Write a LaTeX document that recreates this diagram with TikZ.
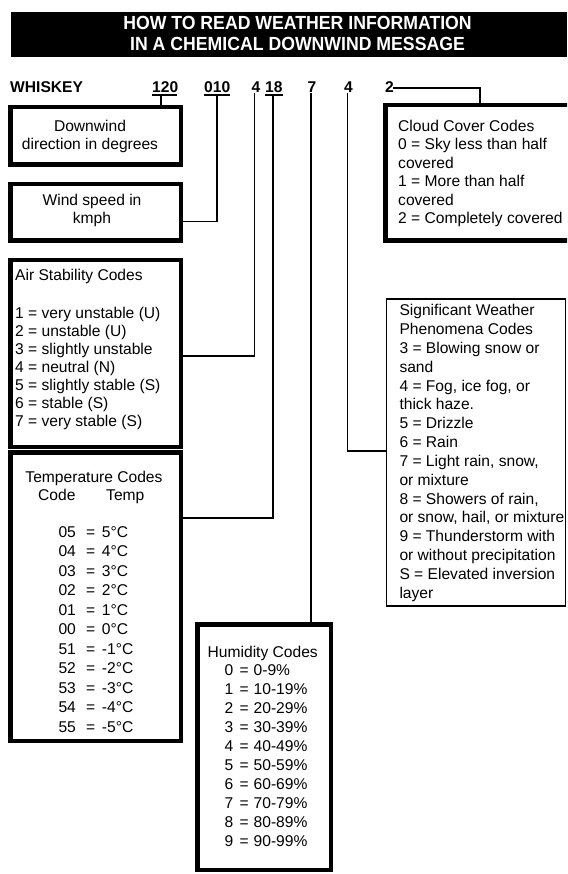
\documentclass[tikz,border=0pt]{standalone}
\usepackage{fontspec}
\setmainfont{Liberation Sans}
\newfontfamily\titlefont{Liberation Sans}[FakeStretch=0.93]
\begin{document}
\begin{tikzpicture}[x=1pt,y=-1pt,
  thickbox/.style={draw, line width=4.5pt, inner sep=0pt, rectangle},
  thinbox/.style={draw, line width=1.5pt, inner sep=0pt, rectangle},
  conn/.style={line width=1.6pt},
  txt/.style={inner sep=0pt, anchor=base west, font=\fontsize{15.6}{18}\selectfont},
  ctxt/.style={txt, anchor=base},
  num/.style={inner sep=0pt, anchor=base west, font=\fontsize{15.6}{18}\selectfont\bfseries},
  ttl/.style={inner sep=0pt, anchor=base, text=white, font=\titlefont\fontsize{19}{21}\selectfont\bfseries}]
\useasboundingbox (0,0) rectangle (567,874);
\clip (0,0) rectangle (567,874);

% title bar
\node[fill=black, inner sep=0pt, minimum width=556pt, minimum height=45pt, anchor=north west] (bar) at (11,11.7) {};
\node[ttl] (t1) at (297.5,29.3) {HOW TO READ WEATHER INFORMATION};
\node[ttl] (t2) at (297.5,51) {IN A CHEMICAL DOWNWIND MESSAGE};

% message row
\node[num] (whiskey) at (10,92.3) {WHISKEY};
\node[num] (n120) at (152,92.3) {120};
\node[num] (n010) at (204,92.3) {010};
\node[num] (n4a) at (251.5,92.3) {4};
\node[num] (n18) at (265,92.3) {18};
\node[num] (n7) at (307.5,92.3) {7};
\node[num] (n4b) at (344,92.3) {4};
\node[num] (n2) at (385,92.3) {2};

% boxes
\node[thickbox, minimum width=170.5pt, minimum height=57.5pt] (down) at (95.5,136) {};
\node[thickbox, minimum width=170.5pt, minimum height=56.5pt] (wind) at (95.5,212.5) {};
\node[thickbox, minimum width=170.5pt, minimum height=186.5pt] (air) at (95.5,353.5) {};
\node[thickbox, minimum width=170.5pt, minimum height=288.5pt] (temp) at (95.5,596.5) {};
\node[thickbox, minimum width=133.5pt, minimum height=245.5pt] (hum) at (264,747) {};
\node[thickbox, minimum width=190pt, minimum height=135.5pt] (cloud) at (480.25,173) {};
\node[thinbox, minimum width=179.2pt, minimum height=307.1pt] (sig) at (476.1,452.35) {};

% connector points
\coordinate (u120a) at (152,95); \coordinate (u120b) at (177,95); \coordinate (u120) at (161,95);
\coordinate (u010a) at (204,95); \coordinate (u010b) at (230,95); \coordinate (u010) at (216.7,95);
\coordinate (u18a) at (265,95); \coordinate (u18b) at (283,95); \coordinate (u18) at (273,95);
\coordinate (s4a) at (254.5,93.5);
\coordinate (s7) at (311,93.5);
\coordinate (s4b) at (347.5,93.5);
\coordinate (s2) at (393,88.3);
\coordinate (a010) at (180.75,221.7);
\coordinate (aair) at (180.75,356);
\coordinate (atemp) at (180.75,518);
\coordinate (asig) at (386.5,451);
\coordinate (acloud) at (480,105.25);

\draw[conn] (u120a) -- (u120b);
\draw[conn] (u010a) -- (u010b);
\draw[conn] (u18a) -- (u18b);
\draw[conn] (u120) -- (u120 |- down.north);
\draw[conn] (u010) |- (a010);
\draw[conn] (s4a) |- (aair);
\draw[conn] (u18) |- (atemp);
\draw[conn] (s7) -- (s7 |- hum.north);
\draw[conn] (s4b) |- (asig);
\draw[conn] (s2) -| (acloud);

% downwind / wind texts
\node[ctxt] (d1) at (90,131.5) {Downwind};
\node[ctxt] (d2) at (90,149.3) {direction in degrees};
\node[ctxt] (w1) at (92,206) {Wind speed in};
\node[ctxt] (w2) at (92,224) {kmph};

% air stability
\node[txt] (a0) at (15,280) {Air Stability Codes};
\foreach \s [count=\i from 0] in {1 = very unstable (U), 2 = unstable (U), 3 = slightly unstable, 4 = neutral (N), 5 = slightly stable (S), 6 = stable (S), 7 = very stable (S)}
  \node[txt] (air\i) at (15,{318.3+18.07*\i}) {\s};

% temperature
\node[ctxt] (tp0) at (94,482.3) {Temperature Codes};
\node[txt] (tpc) at (38,500) {Code};
\node[txt] (tpt) at (106,500) {Temp};
\foreach \c/\v [count=\i from 0] in {05/5,04/4,03/3,02/2,01/1,00/0,51/-1,52/-2,53/-3,54/-4,55/-5}{
  \node[txt] (tc\i) at (58.3,{537.3+19.5*\i}) {\c};
  \node[txt] (te\i) at (86,{537.3+19.5*\i}) {=};
  \node[txt] (tv\i) at (101.7,{537.3+19.5*\i}) {\v°C};
}

% humidity
\node[txt] (h0) at (207.5,657) {Humidity Codes};
\foreach \c/\v [count=\i from 0] in {0/0-9,1/10-19,2/20-29,3/30-39,4/40-49,5/50-59,6/60-69,7/70-79,8/80-89,9/90-99}{
  \node[txt] (hc\i) at (224.5,{675+19.1*\i}) {\c};
  \node[txt] (he\i) at (239.5,{675+19.1*\i}) {=};
  \node[txt] (hv\i) at (253.5,{675+19.1*\i}) {\v\%};
}

% cloud cover
\foreach \s [count=\i from 0] in {Cloud Cover Codes, 0 = Sky less than half, covered, 1 = More than half, covered, 2 = Completely covered}
  \node[txt] (cl\i) at (398,{131.5+18.4*\i}) {\s};

% significant weather
\foreach \s [count=\i from 0] in {Significant Weather, Phenomena Codes, 3 = Blowing snow or, sand, {4 = Fog, ice fog, or}, thick haze., 5 = Drizzle, 6 = Rain, {7 = Light rain, snow,}, or mixture, {8 = Showers of rain,}, {or snow, hail, or mixture}, 9 = Thunderstorm with, or without precipitation, S = Elevated inversion, layer}
  \node[txt] (sg\i) at (399.3,{315.7+18.84*\i}) {\s};
\end{tikzpicture}
\end{document}
